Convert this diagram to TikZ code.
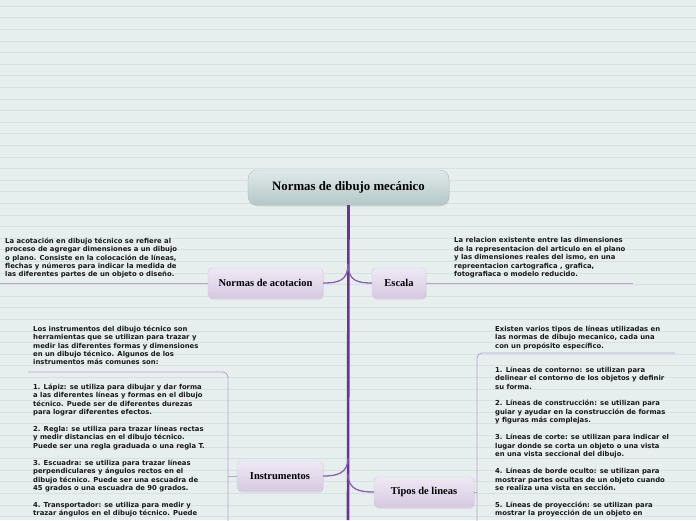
\documentclass[tikz,border=0pt]{standalone}
\usepackage{fontspec}
\setmainfont{DejaVu Sans}
\newfontfamily\titlefont{Liberation Serif}
\usepackage{tikz}
\usetikzlibrary{positioning}
\usetikzlibrary{shadows}

\definecolor{paper}{HTML}{E7EFEE}
\definecolor{rule}{HTML}{D6E2E1}
\definecolor{trunk}{HTML}{6B3398}
\definecolor{twig}{HTML}{8A5CB2}
\definecolor{leaf}{HTML}{B9A3D0}
\definecolor{lilac}{HTML}{E4DAEC}
\definecolor{lilacdark}{HTML}{D6C9E2}
\definecolor{teal}{HTML}{B3C8C7}

\tikzset{
    topic/.style={rounded corners=9pt, draw=teal!70!black!60, top color=teal!40, bottom color=teal,
        minimum width=201pt, minimum height=35pt, font=\fontsize{12.8}{14}\selectfont\titlefont\bfseries,
        drop shadow={opacity=0.2, shadow xshift=0.6pt, shadow yshift=-1.5pt}},
    sub/.style={rounded corners=4pt, draw=lilacdark, top color=lilac!60, bottom color=lilacdark,
        minimum height=30pt, font=\fontsize{10.5}{12}\selectfont\titlefont\bfseries,
        drop shadow={opacity=0.2, shadow xshift=0.6pt, shadow yshift=-1.5pt}},
    note/.style={anchor=north west, inner sep=0pt, align=left,
        font=\fontsize{6.85}{8.45}\selectfont\bfseries, text=black!90},
}

\begin{document}
\begin{tikzpicture}[x=1pt,y=-1pt]
    \path[use as bounding box, clip] (0,0) rectangle (696,520);
    % paper with faint ruling
    \fill[paper] (0,0) rectangle (696,520);
    \foreach \k in {0,...,45} {
        \draw[rule, line width=0.6pt] (0,6+11.6*\k) -- (696,6+11.6*\k);
    }

    % central topic
    \node[topic] (main) at (348.5,187.5) {Normas de dibujo mecánico};
    \coordinate (bottom) at (348,520);
    \draw[trunk, line width=2.6pt] (main.south) -- (bottom);

    % main branches
    \node[sub, minimum width=115pt] (acot) at (265.5,283) {Normas de acotacion};
    \node[sub, minimum width=54pt] (escala) at (399,283) {Escala};
    \node[sub, minimum width=86pt] (instr) at (280,476) {Instrumentos};
    \node[sub, minimum width=100pt] (tipos) at (424,492) {Tipos de lineas};

    % joints on the trunk
    \coordinate (j1) at (348,264);
    \coordinate (j2) at (348,458);
    \coordinate (j3) at (348,474);
    \draw[twig, line width=1.3pt] (j1) .. controls (348,281) and (338,283) .. (acot.east);
    \draw[twig, line width=1.3pt] (j1) .. controls (348,281) and (358,283) .. (escala.west);
    \draw[twig, line width=1.3pt] (j2) .. controls (348,474) and (336,476) .. (instr.east);
    \draw[twig, line width=1.3pt] (j3) .. controls (348,490) and (360,492) .. (tipos.west);

    % notes of Normas de acotacion
    \coordinate (acotend) at (0,283);
    \draw[leaf, line width=0.9pt] (acot.west) -- (acotend);
    \node[note] (acottxt) at (5,237.5) {La acotación en dibujo técnico se refiere al\\
        proceso de agregar dimensiones a un dibujo\\
        o plano. Consiste en la colocación de líneas,\\
        flechas y números para indicar la medida de\\
        las diferentes partes de un objeto o diseño.};

    % notes of Escala
    \coordinate (escalaend) at (633,283);
    \draw[leaf, line width=0.9pt] (escala.east) -- (escalaend);
    \node[note] (escalatxt) at (454,237.5) {La relacion existente entre las dimensiones\\
        de la representacion del articulo en el plano\\
        y las dimensiones reales del ismo, en una\\
        repreentacion cartografica , grafica,\\
        fotografiaca o modelo reducido.};

    % notes of Instrumentos
    \coordinate (instrtop) at (28,372);
    \coordinate (instrbar) at (228,476);
    \coordinate (instrfoot) at (228,530);
    \draw[leaf, line width=0.9pt] (instr.west) -- (instrbar);
    \draw[leaf, line width=0.9pt, rounded corners=5pt] (instrtop) -| (instrfoot);
    \node[note] (instrtxt) at (33,325.5) {Los instrumentos del dibujo técnico son\\
        herramientas que se utilizan para trazar y\\
        medir las diferentes formas y dimensiones\\
        en un dibujo técnico. Algunos de los\\
        instrumentos más comunes son:};
    \node[note] (instrlist) at (33,383.5) {1. Lápiz: se utiliza para dibujar y dar forma\\
        a las diferentes líneas y formas en el dibujo\\
        técnico. Puede ser de diferentes durezas\\
        para lograr diferentes efectos.\\[8.45pt]
        2. Regla: se utiliza para trazar líneas rectas\\
        y medir distancias en el dibujo técnico.\\
        Puede ser una regla graduada o una regla T.\\[8.45pt]
        3. Escuadra: se utiliza para trazar líneas\\
        perpendiculares y ángulos rectos en el\\
        dibujo técnico. Puede ser una escuadra de\\
        45 grados o una escuadra de 90 grados.\\[8.45pt]
        4. Transportador: se utiliza para medir y\\
        trazar ángulos en el dibujo técnico. Puede};

    % notes of Tipos de lineas
    \coordinate (tipostop) at (675,353);
    \coordinate (tiposbar) at (477,492);
    \coordinate (tiposfoot) at (477,530);
    \draw[leaf, line width=0.9pt] (tipos.east) -- (tiposbar);
    \draw[leaf, line width=0.9pt, rounded corners=5pt] (tipostop) -| (tiposfoot);
    \node[note] (tipostxt) at (495,325.5) {Existen varios tipos de líneas utilizadas en\\
        las normas de dibujo mecanico, cada una\\
        con un propósito específico.};
    \node[note] (tiposlist) at (495,366.5) {1. Líneas de contorno: se utilizan para\\
        delinear el contorno de los objetos y definir\\
        su forma.\\[8.45pt]
        2. Líneas de construcción: se utilizan para\\
        guiar y ayudar en la construcción de formas\\
        y figuras más complejas.\\[8.45pt]
        3. Líneas de corte: se utilizan para indicar el\\
        lugar donde se corta un objeto o una vista\\
        en una vista seccional del dibujo.\\[8.45pt]
        4. Líneas de borde oculto: se utilizan para\\
        mostrar partes ocultas de un objeto cuando\\
        se realiza una vista en sección.\\[8.45pt]
        5. Líneas de proyección: se utilizan para\\
        mostrar la proyección de un objeto en};
\end{tikzpicture}
\end{document}
